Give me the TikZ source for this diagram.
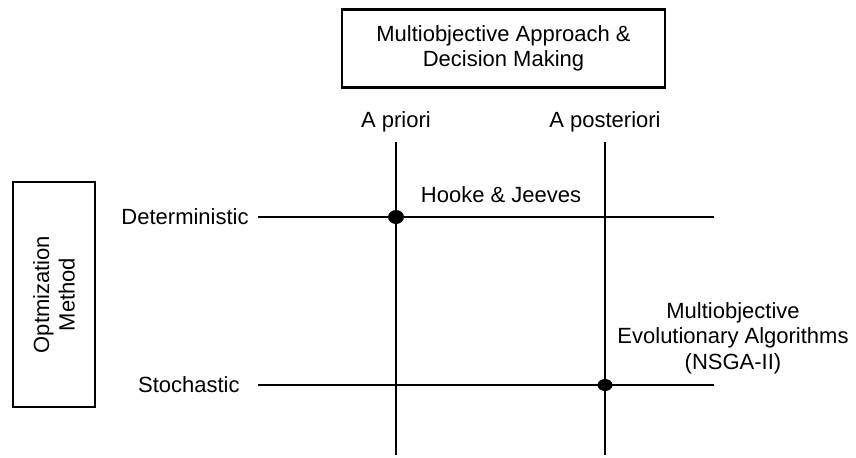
\documentclass[tikz,border=0pt]{standalone}
\usepackage{fontspec}
\setmainfont{Liberation Sans}
\usetikzlibrary{shapes.geometric, positioning}

\begin{document}
\begin{tikzpicture}[
    x=0.5pt, y=-0.5pt,
    box/.style={rectangle, draw, line width=1.1pt, align=center, font=\fontsize{11}{12.8}\selectfont},
    label/.style={align=center, font=\fontsize{11}{12.8}\selectfont, inner sep=0pt},
    line/.style={line width=1.3pt},
    dot/.style={ellipse, fill=black, inner sep=0pt, minimum width=8pt, minimum height=7pt}
]
    \useasboundingbox (0,0) rectangle (856,457);

    % Headers
    \node[box, minimum width=161.5pt, minimum height=39pt] (approach) at (503.5,48.5) {Multiobjective Approach \&\\Decision Making};
    \node[box, minimum width=112.5pt, minimum height=41pt, rotate=90] (method) at (54,294.5) {Optmization\\Method};

    % Column and row labels
    \node[label] (priori) at (396,122) {A priori};
    \node[label] (posteriori) at (605,122) {A posteriori};
    \node[label, anchor=east] (determ) at (249,217) {Deterministic};
    \node[label, anchor=east] (stoch) at (240,385) {Stochastic};

    % Grid
    \coordinate (pri top) at (396,142);
    \coordinate (pri bot) at (396,455);
    \coordinate (post top) at (605,142);
    \coordinate (post bot) at (605,455);
    \coordinate (det start) at (258,217);
    \coordinate (det end) at (714,217);
    \coordinate (sto start) at (258,385);
    \coordinate (sto end) at (714,385);
    \draw[line] (pri top) -- (pri bot);
    \draw[line] (post top) -- (post bot);
    \draw[line] (det start) -- (det end);
    \draw[line] (sto start) -- (sto end);

    % Methods
    \node[dot] (hooke dot) at (396,217) {};
    \node[dot, minimum width=7.5pt, minimum height=6pt] (nsga dot) at (605,385) {};
    \node[label] (hooke) at (501,195) {Hooke \& Jeeves};
    \node[label] (nsga) at (733,338) {Multiobjective\\Evolutionary Algorithms\\(NSGA-II)};
\end{tikzpicture}
\end{document}
